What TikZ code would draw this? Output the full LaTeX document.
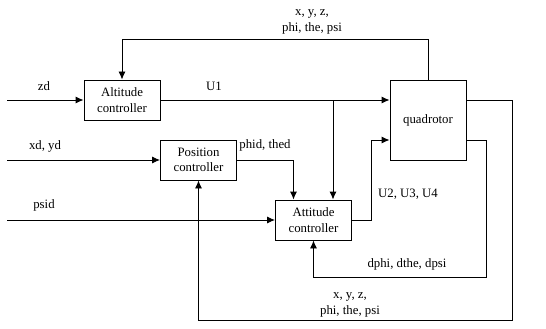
\documentclass[tikz,border=0pt]{standalone}
\usepackage{fontspec}
\setmainfont{Liberation Serif}
\usetikzlibrary{arrows.meta,positioning,calc}

\begin{document}
\begin{tikzpicture}[x=1pt, y=-1pt, >={Latex[length=8pt,width=7pt]}, line width=0.9pt,
 font=\fontsize{12.8}{15.5}\selectfont,
 blk/.style={draw, minimum width=76pt, minimum height=40pt, align=center, inner sep=1pt},
 lbl/.style={align=center, inner sep=0pt}]
\useasboundingbox (0,0) rectangle (546,329);
\node[blk] (alt) at (122,100) {Altitude\\ controller};
\node[blk, minimum height=80pt] (quad) at (428,120) {quadrotor};
\node[blk] (pos) at (198.5,160) {Position\\ controller};
\node[blk] (att) at (313.5,220) {Attitude\\ controller};
\coordinate (zd) at (7,100);
\coordinate (xyd) at (7,160);
\coordinate (psid) at (7,220);
\coordinate (br) at (333,100);
% inputs
\draw[->] (zd) -- (alt);
\draw[->] (xyd) -- (pos);
\draw[->] (psid) -- (att);
\node[lbl] (zdl) at (44,86) {zd};
\node[lbl] (xydl) at (45,146) {xd, yd};
\node[lbl] (psidl) at (44,205) {psid};
% controls
\draw[->] (alt) -- (quad.west |- alt.east);
\node[lbl] (u1l) at (214,86) {U1};
\draw[->] (br) -- (br |- att.north);
\draw[->] (pos.east) -| ($(att.north)+(-20,0)$);
\node[lbl] (angl) at (265,145) {phid, thed};
\draw[->] (att.east) -| (371,140) -- ($(quad.west)+(0,20)$);
\node[lbl] (ul) at (408,194) {U2, U3, U4};
% feedback
\draw[->] (quad.north) -- ++(0,-40) -| (alt.north);
\node[lbl] (fbtop) at (312,22) {x, y, z,\\ phi, the, psi};
\draw[->] ($(quad.east)+(0,20)$) -| (486,277) -| (att.south);
\node[lbl] (ratel) at (407,264) {dphi, dthe, dpsi};
\draw[->] ($(quad.east)+(0,-20)$) -| (512,320) -| (pos.south);
\node[lbl] (fbbot) at (350,305) {x, y, z,\\ phi, the, psi};
\end{tikzpicture}
\end{document}
